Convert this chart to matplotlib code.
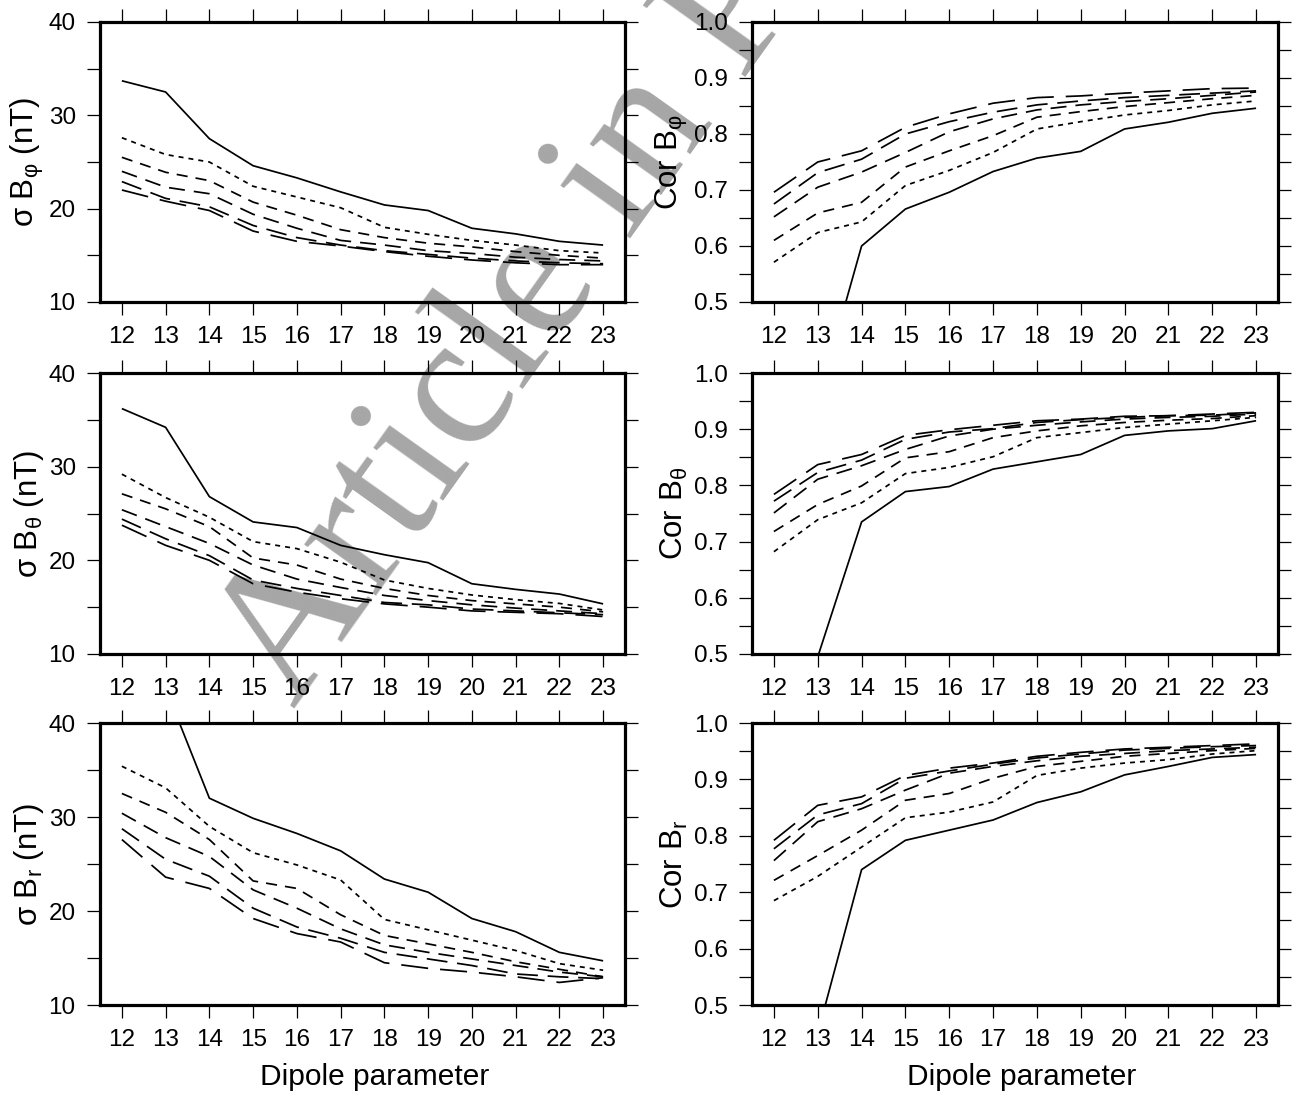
import matplotlib
matplotlib.use("Agg")
import matplotlib.pyplot as plt
from matplotlib.ticker import MultipleLocator, FormatStrFormatter

plt.rcParams['font.family'] = ['Liberation Sans', 'DejaVu Sans']
plt.rcParams['mathtext.fontset'] = 'custom'
plt.rcParams['mathtext.rm'] = 'Liberation Sans'
plt.rcParams['lines.scale_dashes'] = False

dipole = [12, 13, 14, 15, 16, 17, 18, 19, 20, 21, 22, 23]

# RMS misfit (nT) for the phi component, one list per model curve
sig_phi_solid = [33.7, 32.5, 27.5, 24.6, 23.3, 21.8, 20.4, 19.8, 17.9, 17.3, 16.5, 16.1]
sig_phi_dot = [27.6, 25.8, 25.0, 22.4, 21.25, 20.1, 18.0, 17.25, 16.6, 16.1, 15.5, 15.25]
sig_phi_d1 = [25.5, 23.9, 23.0, 20.7, 19.3, 17.75, 16.9, 16.3, 15.9, 15.4, 15.0, 14.7]
sig_phi_d2 = [24.0, 22.3, 21.6, 19.4, 17.9, 16.6, 16.1, 15.5, 15.2, 14.8, 14.55, 14.4]
sig_phi_d3 = [22.9, 21.1, 20.2, 18.2, 16.9, 16.1, 15.5, 15.1, 14.7, 14.4, 14.2, 14.1]
sig_phi_d4 = [22.0, 20.8, 19.8, 17.6, 16.5, 16.0, 15.4, 14.9, 14.5, 14.2, 14.0, 14.0]

# RMS misfit (nT) for the theta component
sig_theta_solid = [36.2, 34.2, 26.8, 24.1, 23.5, 21.6, 20.6, 19.75, 17.5, 16.9, 16.4, 15.35]
sig_theta_dot = [29.2, 26.7, 24.6, 22.0, 21.25, 19.8, 17.9, 17.0, 16.3, 15.8, 15.4, 14.7]
sig_theta_d1 = [27.1, 25.5, 23.6, 20.25, 19.5, 18.0, 17.0, 16.25, 15.7, 15.35, 15.0, 14.5]
sig_theta_d2 = [25.4, 23.6, 21.8, 19.5, 18.0, 17.1, 16.25, 15.7, 15.25, 14.9, 14.6, 14.3]
sig_theta_d3 = [24.4, 22.3, 20.5, 17.9, 17.0, 16.25, 15.5, 15.25, 14.8, 14.6, 14.4, 14.2]
sig_theta_d4 = [23.75, 21.6, 20.0, 17.5, 16.6, 15.9, 15.35, 15.0, 14.6, 14.45, 14.3, 14.0]

# RMS misfit (nT) for the radial component
sig_r_solid = [46.0, 43.7, 32.0, 29.86, 28.25, 26.4, 23.4, 22.0, 19.2, 17.8, 15.6, 14.7]
sig_r_dot = [35.4, 33.1, 29.0, 26.2, 24.9, 23.3, 19.1, 18.0, 16.9, 15.8, 14.4, 13.7]
sig_r_d1 = [32.5, 30.5, 27.6, 23.2, 22.4, 19.6, 17.4, 16.5, 15.6, 14.6, 13.8, 13.0]
sig_r_d2 = [30.4, 27.8, 25.8, 22.25, 20.3, 18.1, 16.4, 15.6, 14.9, 14.2, 13.5, 13.0]
sig_r_d3 = [28.75, 25.5, 23.7, 20.3, 18.3, 17.1, 15.6, 14.9, 14.2, 13.3, 13.0, 12.8]
sig_r_d4 = [27.6, 23.6, 22.4, 19.2, 17.6, 16.7, 14.5, 13.9, 13.5, 13.0, 12.4, 12.9]

# Correlation coefficients, phi component
cor_phi_solid = [0.20, 0.322, 0.600, 0.666, 0.696, 0.733, 0.757, 0.769, 0.809, 0.821, 0.837, 0.846]
cor_phi_dot = [0.571, 0.624, 0.643, 0.708, 0.735, 0.767, 0.809, 0.822, 0.834, 0.842, 0.852, 0.859]
cor_phi_d1 = [0.610, 0.659, 0.678, 0.741, 0.770, 0.797, 0.830, 0.840, 0.849, 0.856, 0.863, 0.869]
cor_phi_d2 = [0.652, 0.705, 0.732, 0.767, 0.804, 0.827, 0.843, 0.852, 0.858, 0.863, 0.869, 0.875]
cor_phi_d3 = [0.675, 0.731, 0.755, 0.800, 0.822, 0.839, 0.852, 0.859, 0.865, 0.869, 0.873, 0.877]
cor_phi_d4 = [0.696, 0.750, 0.770, 0.812, 0.836, 0.855, 0.865, 0.868, 0.873, 0.877, 0.881, 0.882]

# Correlation coefficients, theta component
cor_theta_solid = [0.35, 0.495, 0.735, 0.789, 0.798, 0.829, 0.842, 0.855, 0.889, 0.897, 0.901, 0.915]
cor_theta_dot = [0.682, 0.739, 0.769, 0.821, 0.832, 0.851, 0.885, 0.894, 0.903, 0.909, 0.915, 0.921]
cor_theta_d1 = [0.718, 0.766, 0.799, 0.849, 0.860, 0.885, 0.897, 0.906, 0.912, 0.916, 0.919, 0.924]
cor_theta_d2 = [0.751, 0.811, 0.835, 0.864, 0.888, 0.900, 0.907, 0.913, 0.918, 0.921, 0.923, 0.927]
cor_theta_d3 = [0.772, 0.823, 0.845, 0.882, 0.895, 0.901, 0.912, 0.917, 0.921, 0.924, 0.925, 0.929]
cor_theta_d4 = [0.784, 0.837, 0.855, 0.889, 0.899, 0.907, 0.915, 0.918, 0.923, 0.924, 0.927, 0.930]

# Correlation coefficients, radial component
cor_r_solid = [0.30, 0.45, 0.740, 0.792, 0.810, 0.828, 0.859, 0.878, 0.908, 0.923, 0.939, 0.944]
cor_r_dot = [0.685, 0.728, 0.780, 0.832, 0.842, 0.860, 0.907, 0.920, 0.929, 0.935, 0.945, 0.951]
cor_r_d1 = [0.721, 0.765, 0.810, 0.863, 0.875, 0.902, 0.923, 0.932, 0.941, 0.946, 0.951, 0.955]
cor_r_d2 = [0.756, 0.825, 0.848, 0.881, 0.911, 0.923, 0.933, 0.941, 0.946, 0.951, 0.954, 0.957]
cor_r_d3 = [0.777, 0.837, 0.857, 0.902, 0.915, 0.927, 0.938, 0.945, 0.952, 0.955, 0.958, 0.960]
cor_r_d4 = [0.792, 0.854, 0.869, 0.907, 0.920, 0.929, 0.941, 0.948, 0.954, 0.957, 0.960, 0.963]

sig_ylabels = ['σ B$_{\\mathregular{φ}}$ (nT)', 'σ B$_{\\mathregular{θ}}$ (nT)', 'σ B$_{\\mathregular{r}}$ (nT)']
cor_ylabels = ['Cor B$_{\\mathregular{φ}}$', 'Cor B$_{\\mathregular{θ}}$', 'Cor B$_{\\mathregular{r}}$']
xlabel_text = 'Dipole parameter'
watermark_text = 'Article in Press'

sig_rows = [
    [sig_phi_solid, sig_phi_dot, sig_phi_d1, sig_phi_d2, sig_phi_d3, sig_phi_d4],
    [sig_theta_solid, sig_theta_dot, sig_theta_d1, sig_theta_d2, sig_theta_d3, sig_theta_d4],
    [sig_r_solid, sig_r_dot, sig_r_d1, sig_r_d2, sig_r_d3, sig_r_d4],
]
cor_rows = [
    [cor_phi_solid, cor_phi_dot, cor_phi_d1, cor_phi_d2, cor_phi_d3, cor_phi_d4],
    [cor_theta_solid, cor_theta_dot, cor_theta_d1, cor_theta_d2, cor_theta_d3, cor_theta_d4],
    [cor_r_solid, cor_r_dot, cor_r_d1, cor_r_d2, cor_r_d3, cor_r_d4],
]

# Line styles: solid, short dash, then progressively longer dashes (points)
styles = [
    '-',
    (0, (3.6, 3.6)),
    (0, (8.0, 5.8)),
    (0, (11.5, 6.5)),
    (0, (15.0, 7.0)),
    (0, (19.5, 8.6)),
]

W, H = 1293, 1095
fig = plt.figure(figsize=(W / 100, H / 100), dpi=100)
fig.patch.set_facecolor('white')

# watermark behind the panels
fig.text(294 / W, 1 - 710 / H, watermark_text, rotation=54.5, rotation_mode='anchor',
         ha='left', va='baseline', fontsize=137, family=['Liberation Serif', 'DejaVu Serif'],
         color='#a6a6a6', zorder=-5)

col_x = [100 / W, 752 / W]
col_w = [525 / W, 526 / W]
row_tb = [(22, 302), (373, 654), (723, 1005)]
xlabel_x = [0.524, 0.513]

def style_axes(ax, ylim, major, minor):
    ax.set_facecolor('none')
    ax.set_xlim(11.5, 23.5)
    ax.set_ylim(*ylim)
    ax.set_xticks(dipole)
    ax.yaxis.set_major_locator(MultipleLocator(major))
    ax.yaxis.set_minor_locator(MultipleLocator(minor))
    for s in ax.spines.values():
        s.set_linewidth(2.3)
    ax.tick_params(which='both', direction='out', length=9.5, width=0.9,
                   top=True, right=True, labelsize=17.5)
    ax.tick_params(axis='x', pad=8)
    ax.tick_params(axis='y', pad=8)

for r in range(3):
    top, bot = row_tb[r]
    for c in range(2):
        ax = fig.add_axes([col_x[c], 1 - bot / H, col_w[c], (bot - top) / H])
        series = sig_rows[r] if c == 0 else cor_rows[r]
        for vals, ls in zip(series, styles):
            ax.plot(dipole, vals, color='black', lw=1.25, linestyle=ls,
                    solid_capstyle='butt', dash_capstyle='butt')
        if c == 0:
            style_axes(ax, (10, 40), 10, 5)
            ax.set_ylabel(sig_ylabels[r], fontsize=22.5, labelpad=2)
        else:
            style_axes(ax, (0.5, 1.0), 0.1, 0.05)
            ax.yaxis.set_major_formatter(FormatStrFormatter('%.1f'))
            ax.set_ylabel(cor_ylabels[r], fontsize=22.5, labelpad=3)
        if r == 2:
            ax.set_xlabel(xlabel_text, fontsize=21.5)
            ax.xaxis.set_label_coords(xlabel_x[c], -0.205)

fig.savefig('out.png', dpi=100, facecolor='white')
